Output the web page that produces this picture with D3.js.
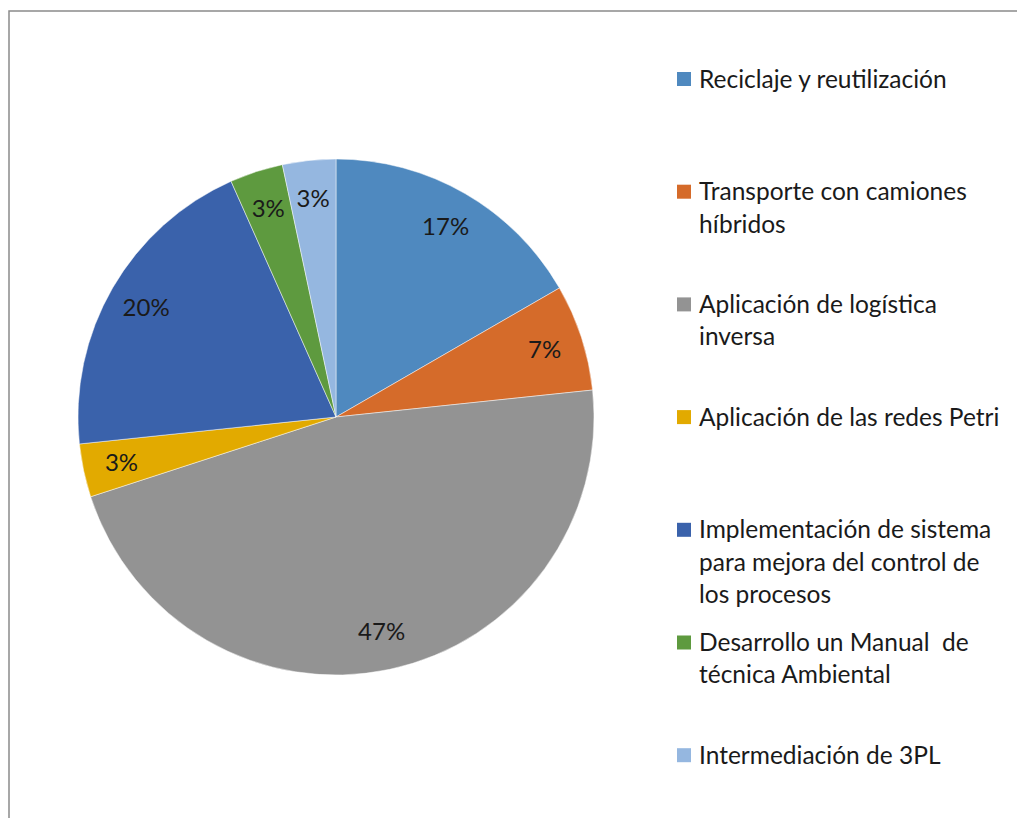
<!DOCTYPE html>
<html>
<head>
<meta charset="utf-8">
<script src="https://cdn.jsdelivr.net/npm/d3@7"></script>
<style>
  body { margin: 0; background: #fff; }
  text { font-family: Lato, "Open Sans", sans-serif; fill: #1a1a1a; white-space: pre; }
</style>
</head>
<body>
<script>
// Chart data
var categories = [
    'Reciclaje y reutilización',
    'Transporte con camiones híbridos',
    'Aplicación de logística inversa',
    'Aplicación de las redes Petri',
    'Implementación de sistema para mejora del control de los procesos',
    'Desarrollo un Manual  de técnica Ambiental',
    'Intermediación de 3PL'
];
var counts = [5, 2, 14, 1, 6, 1, 1];
var legendLines = [
    ['Reciclaje y reutilización'],
    ['Transporte con camiones', 'híbridos'],
    ['Aplicación de logística', 'inversa'],
    ['Aplicación de las redes Petri'],
    ['Implementación de sistema', 'para mejora del control de', 'los procesos'],
    ['Desarrollo un Manual  de', 'técnica Ambiental'],
    ['Intermediación de 3PL']
];
var colors = ['#4f89bf', '#d56b2a', '#939393', '#e2aa00', '#3a62ab', '#5e9a3f', '#95b7e0'];

// Dimensions
var width = 1017, height = 818;
var cx = 336, cy = 417, radius = 258;

var svg = d3.select('body')
    .append('svg')
    .attr('width', width)
    .attr('height', height);

// Chart area border
svg.append('rect')
    .attr('x', 9)
    .attr('y', 11)
    .attr('width', 1100)
    .attr('height', 900)
    .attr('fill', 'none')
    .attr('stroke', '#8a8a8a')
    .attr('stroke-width', 1.5);

var total = d3.sum(counts);
var data = categories.map(function(c, i) { return {name: c, value: counts[i], color: colors[i]}; });

var pie = d3.pie()
    .sort(null)
    .value(function(d) { return d.value; });

var arc = d3.arc().innerRadius(0).outerRadius(radius);
var labelArc = d3.arc().innerRadius(radius * 0.85).outerRadius(radius * 0.85);

var g = svg.append('g')
    .attr('transform', 'translate(' + cx + ',' + cy + ')');

var slices = g.selectAll('.slice')
    .data(pie(data))
    .enter().append('g')
    .attr('class', 'slice');

slices.append('path')
    .attr('d', arc)
    .attr('fill', function(d) { return d.data.color; })
    .attr('stroke', 'rgba(255,255,255,0.6)')
    .attr('stroke-width', 0.8);

slices.append('text')
    .attr('transform', function(d) { return 'translate(' + labelArc.centroid(d) + ')'; })
    .attr('text-anchor', 'middle')
    .attr('dy', '0.35em')
    .style('font-size', '24px')
    .text(function(d) { return Math.round(d.data.value / total * 100) + '%'; });

// Legend
var legend = svg.append('g')
    .attr('transform', 'translate(677,79)');

var items = legend.selectAll('.item')
    .data(data)
    .enter().append('g')
    .attr('class', 'item')
    .attr('transform', function(d, i) { return 'translate(0,' + (i * 112.7) + ')'; });

items.append('rect')
    .attr('x', 0)
    .attr('y', -7)
    .attr('width', 14)
    .attr('height', 14)
    .attr('fill', function(d) { return d.color; });

items.append('text')
    .attr('x', 22)
    .style('font-size', '24.5px')
    .selectAll('tspan')
    .data(function(d, i) { return legendLines[i]; })
    .enter().append('tspan')
    .attr('x', 22)
    .attr('y', function(d, j) { return j * 32.3; })
    .attr('dy', '0.35em')
    .text(function(d) { return d; });
</script>
</body>
</html>
